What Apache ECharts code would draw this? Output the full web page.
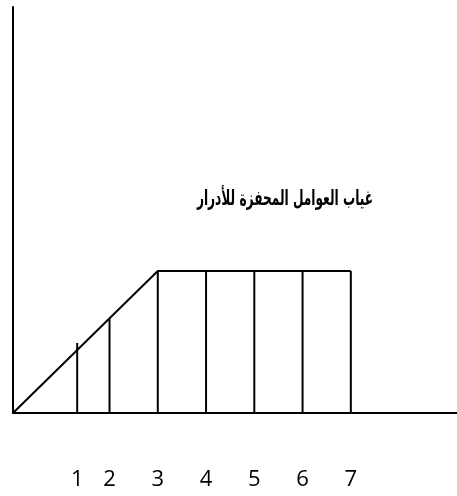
<!DOCTYPE html>
<html>
<head>
<meta charset="utf-8">
<script src="https://cdn.jsdelivr.net/npm/echarts@6/dist/echarts.min.js"></script>
<style>
  html, body { margin: 0; padding: 0; background: #fff; }
  #chart { width: 457px; height: 496px; }
</style>
</head>
<body>
<div id="chart"></div>
<script>
// Stage labels along the horizontal axis and where they sit
const stageLabels = ['1', '2', '3', '4', '5', '6', '7'];
const stagePositions = [1.33, 2, 3, 4, 5, 6, 7];
// Height of each divider line at its stage
const dividerTops = [1.48, 2, 3, 3, 3, 3, 3];
// Outline: rising ramp, then a flat plateau
const outlineX = [0, 3, 7];
const outlineY = [0, 3, 3];
const titleText = 'غياب العوامل المحفزة للأدرار';

const lineStyle = { color: '#000', width: 2 };

const series = [{
  type: 'line',
  data: outlineX.map((x, i) => [x, outlineY[i]]),
  symbol: 'none',
  lineStyle: lineStyle,
  silent: true
}];
stagePositions.forEach((x, i) => {
  series.push({
    type: 'line',
    data: [[x, 0], [x, dividerTops[i]]],
    symbol: 'none',
    lineStyle: lineStyle,
    silent: true
  });
});

const chart = echarts.init(document.getElementById('chart'), null, { renderer: 'canvas' });
chart.setOption({
  animation: false,
  backgroundColor: '#fff',
  graphic: [{
    type: 'text',
    x: 285,
    y: 200,
    scaleX: 0.58,
    originX: 0,
    originY: 0,
    silent: true,
    style: {
      text: titleText,
      fontFamily: 'DejaVu Sans',
      fontWeight: 'bold',
      fontSize: 21,
      fill: '#000',
      align: 'center',
      verticalAlign: 'middle'
    }
  }],
  grid: { left: 13, right: 0, top: 7, bottom: 83, containLabel: false },
  xAxis: {
    type: 'value',
    min: 0,
    max: 9.2,
    axisLine: { show: true, lineStyle: { color: '#000', width: 2 } },
    axisTick: { show: false },
    splitLine: { show: false },
    axisLabel: {
      customValues: stagePositions,
      formatter: (v) => {
        const i = stagePositions.indexOf(v);
        return i >= 0 ? stageLabels[i] : '';
      },
      margin: 56,
      fontFamily: 'Open Sans',
      fontSize: 22,
      color: '#000'
    }
  },
  yAxis: {
    type: 'value',
    min: 0,
    max: 8.58,
    axisLine: { show: true, lineStyle: { color: '#000', width: 2 } },
    axisTick: { show: false },
    axisLabel: { show: false },
    splitLine: { show: false }
  },
  series: series
});
</script>
</body>
</html>
